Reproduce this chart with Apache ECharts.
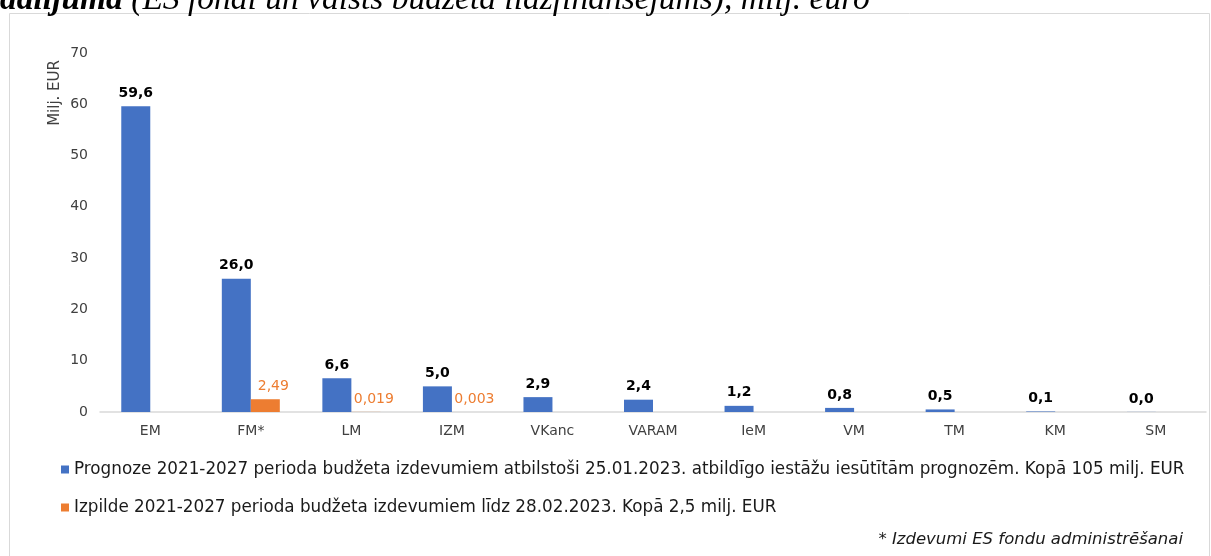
<!DOCTYPE html>
<html>
<head>
    <meta charset='utf-8'/>
    <title>Izdevumi</title>
    <style>
        body { margin: 0; padding: 0; background: #fff; }
        #chart { width: 1211px; height: 556px; }
    </style>
</head>
<body>
<div id='chart'></div>
<script src="https://cdn.jsdelivr.net/npm/echarts@6/dist/echarts.min.js"></script>
<script type="text/javascript">
    var categories = ['EM', 'FM*', 'LM', 'IZM', 'VKanc', 'VARAM', 'IeM', 'VM', 'TM', 'KM', 'SM'];
    var prognoze = [59.6, 26.0, 6.6, 5.0, 2.9, 2.4, 1.2, 0.8, 0.5, 0.1, 0.02];
    var izpilde = [null, 2.49, 0.019, 0.003, null, null, null, null, null, null, null];
    var izpildeLabels = [null, '2,49', '0,019', '0,003', null, null, null, null, null, null, null];
    var yTicks = [0, 10, 20, 30, 40, 50, 60, 70];

    var nameProg = 'Prognoze 2021-2027 perioda budžeta izdevumiem atbilstoši 25.01.2023. atbildīgo iestāžu iesūtītām prognozēm. Kopā 105 milj. EUR';
    var nameIzp = 'Izpilde 2021-2027 perioda budžeta izdevumiem līdz 28.02.2023. Kopā 2,5 milj. EUR';

    var font = 'DejaVu Sans, Verdana, sans-serif';
    var chart = echarts.init(document.getElementById('chart'));

    var option = {
        backgroundColor: '#fff',
        animation: false,
        textStyle: { fontFamily: font },
        grid: { left: 100, right: 5, top: 53, bottom: 144 },
        legend: {
            orient: 'vertical',
            left: 56,
            top: 456,
            itemWidth: 8,
            itemHeight: 8,
            itemGap: 21,
            icon: 'rect',
            textStyle: { fontSize: 16.8, color: '#1a1a1a', fontFamily: font },
            data: [nameProg, nameIzp]
        },
        xAxis: {
            type: 'category',
            data: categories,
            axisLine: { lineStyle: { color: '#d9d9d9', width: 1.5 } },
            axisTick: { show: false },
            axisLabel: { color: '#404040', fontSize: 14, margin: 12 }
        },
        yAxis: {
            type: 'value',
            min: yTicks[0],
            max: yTicks[yTicks.length - 1],
            interval: 10,
            axisLine: { show: false },
            axisTick: { show: false },
            splitLine: { show: false },
            axisLabel: { color: '#404040', fontSize: 14, margin: 12 }
        },
        graphic: [
            {
                type: 'rect',
                silent: true,
                shape: { x: 9.5, y: 13.5, width: 1200, height: 560 },
                style: { fill: 'none', stroke: '#d9d9d9', lineWidth: 1 }
            },
            {
                type: 'text',
                left: 0,
                top: -17,
                silent: true,
                style: {
                    text: '{b|dalījumā} (ES fondi un valsts budžeta līdzfinansējums), milj. euro',
                    font: 'italic 33.5px "Liberation Serif", serif',
                    fill: '#000',
                    rich: {
                        b: { font: 'italic bold 33.5px "Liberation Serif", serif', fill: '#000' }
                    }
                }
            },
            {
                type: 'text',
                left: 48,
                top: 60,
                rotation: Math.PI / 2,
                silent: true,
                style: {
                    text: 'Milj. EUR',
                    font: '15px DejaVu Sans, Verdana, sans-serif',
                    fill: '#404040'
                }
            },
            {
                type: 'text',
                right: 28,
                top: 531,
                silent: true,
                style: {
                    text: '* Izdevumi ES fondu administrēšanai',
                    font: 'italic 16.5px DejaVu Sans, Verdana, sans-serif',
                    fill: '#1a1a1a'
                }
            }
        ],
        series: [
            {
                name: nameProg,
                type: 'bar',
                data: prognoze,
                barWidth: 29,
                barGap: '0%',
                itemStyle: { color: '#4472C4' },
                label: {
                    show: true,
                    position: 'top',
                    distance: 6,
                    color: '#000',
                    fontWeight: 'bold',
                    fontSize: 14,
                    formatter: function (p) {
                        return p.value.toFixed(1).replace('.', ',');
                    }
                }
            },
            {
                name: nameIzp,
                type: 'bar',
                data: izpilde,
                barWidth: 29,
                barGap: '0%',
                itemStyle: { color: '#ED7D31' },
                label: {
                    show: true,
                    position: 'top',
                    distance: 6,
                    offset: [8, 0],
                    color: '#ED7D31',
                    fontSize: 14,
                    formatter: function (p) {
                        return izpildeLabels[p.dataIndex] || '';
                    }
                }
            }
        ]
    };
    chart.setOption(option);
</script>
</body>
</html>
